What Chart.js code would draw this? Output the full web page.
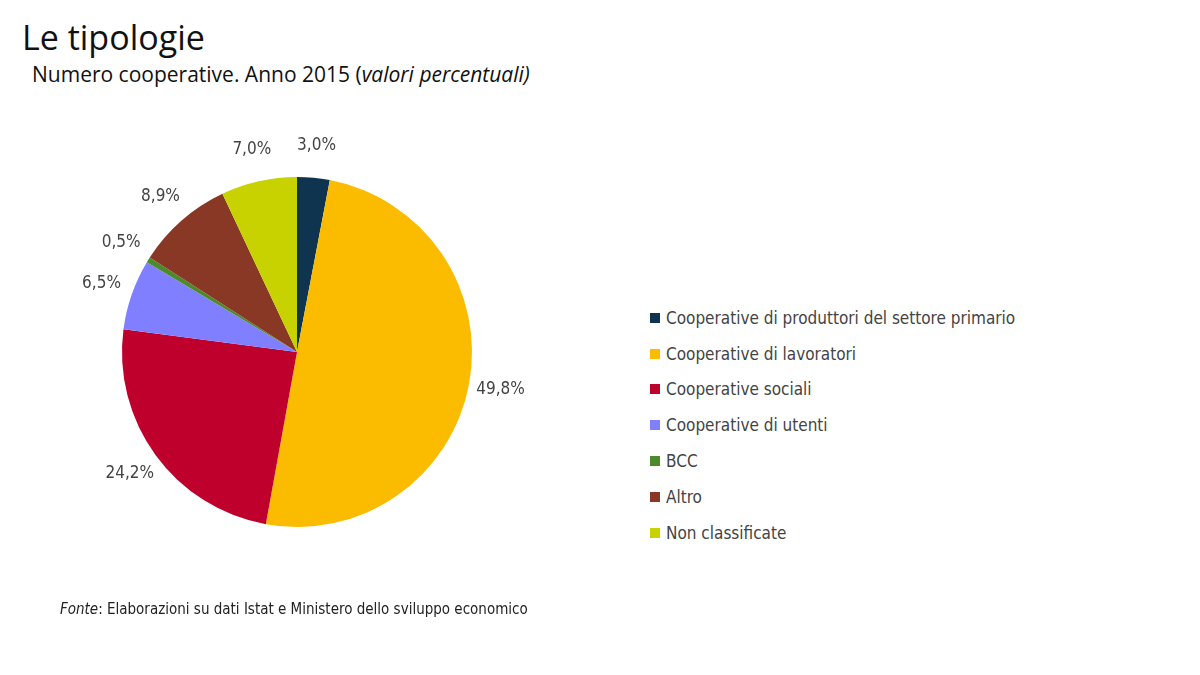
<!DOCTYPE html>
<html><head><meta charset="utf-8">
<script src="https://cdn.jsdelivr.net/npm/chart.js@4"></script>
<style>
body{margin:0;width:1200px;height:675px;background:#fff;position:relative;overflow:hidden;font-family:"Liberation Sans Narrow","DejaVu Sans Condensed",sans-serif;}
#t{position:absolute;left:22px;top:14px;font:34px "Open Sans",sans-serif;color:#111;}
#s{position:absolute;left:32px;top:60px;font:21px "Open Sans",sans-serif;color:#111;}
#c{position:absolute;left:0;top:100px;}
#lg{position:absolute;left:650px;top:300px;font-size:17px;color:#444;}
#lg div{height:35.8px;display:flex;align-items:center;}
#lg span{display:inline-block;width:10px;height:10px;margin-right:6px;}
#f{position:absolute;left:60px;top:600px;font-size:15px;color:#222;}
</style></head><body>
<div id="t">Le tipologie</div>
<div id="s">Numero cooperative. Anno 2015 (<i>valori percentuali)</i></div>
<canvas id="c" width="600" height="520"></canvas>
<div id="lg"></div>
<div id="f"><i>Fonte</i>: Elaborazioni su dati Istat e Ministero dello sviluppo economico</div>
<script>
const categories=["Cooperative di produttori del settore primario","Cooperative di lavoratori","Cooperative sociali","Cooperative di utenti","BCC","Altro","Non classificate"];
const values=[3.0,49.8,24.2,6.5,0.5,8.9,7.0];
const colors=["#0e3450","#fbbc00","#c0002c","#7f7fff","#4c8a2c","#8a3826","#c8d200"];
const lg=document.getElementById('lg');
categories.forEach((c,i)=>{lg.innerHTML+=`<div><span style="background:${colors[i]}"></span>${c}</div>`;});
const labelPlugin={id:'lbl',afterDatasetsDraw(ch){const ctx=ch.ctx;ctx.save();ctx.font='17px "Liberation Sans Narrow","DejaVu Sans Condensed",sans-serif';ctx.fillStyle='#444';ctx.textAlign='center';ctx.textBaseline='middle';
ch.getDatasetMeta(0).data.forEach((a,i)=>{const m=(a.startAngle+a.endAngle)/2,r=a.outerRadius+32;ctx.fillText(values[i].toFixed(1).replace('.',',')+'%',a.x+Math.cos(m)*r,a.y+Math.sin(m)*r);});ctx.restore();}};
new Chart(document.getElementById('c'),{type:'pie',data:{labels:categories,datasets:[{data:values,backgroundColor:colors,borderWidth:0}]},
options:{responsive:false,animation:false,layout:{padding:{left:122,right:128,top:77,bottom:93}},plugins:{legend:{display:false},tooltip:{enabled:false}}},plugins:[labelPlugin]});
</script></body></html>
